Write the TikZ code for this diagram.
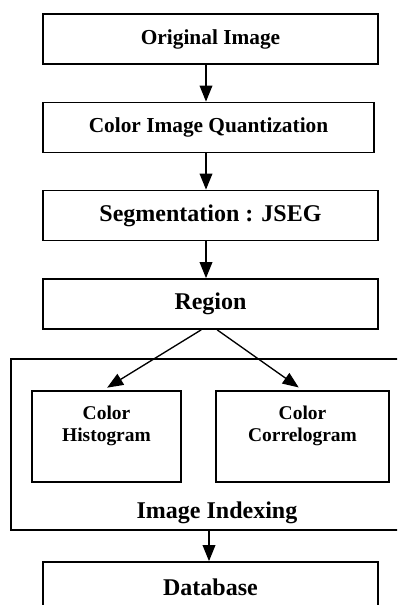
\documentclass[tikz,border=0pt]{standalone}
\usepackage{fontspec}
\setmainfont{Liberation Serif}
\usetikzlibrary{arrows.meta}

\begin{document}
\begin{tikzpicture}[x=0.75pt, y=-0.75pt,
    box/.style={draw, line width=1.3pt, minimum width=251.25pt, minimum height=37.5pt,
        inner sep=0pt, font=\bfseries\fontsize{18}{21}\selectfont},
    smallbox/.style={draw, line width=1.3pt, minimum height=68.25pt, inner sep=0pt},
    smalltext/.style={align=center, inner sep=0pt, anchor=north,
        font=\bfseries\fontsize{14.6}{16.5}\selectfont},
    flow/.style={line width=1pt, -{Triangle[length=12pt, width=9.5pt]}}]
    % picture frame
    \path[use as bounding box, clip] (0, 0) rectangle (397, 605);
    % draw boxes
    \node[box, font=\bfseries\fontsize{16}{19}\selectfont] (orig) at (210.5, 39) {Original Image};
    \node[box, minimum width=248.25pt, font=\bfseries\fontsize{16}{19}\selectfont] (quant) at (208.5, 127.5) {Color Image Quantization};
    \node[box] (seg) at (210.5, 215.5) {Segmentation : JSEG};
    \node[box] (region) at (210.5, 304) {Region};
    % image indexing block
    \node[draw, line width=1.3pt, minimum width=294.75pt, minimum height=128.25pt] (index) at (207.5, 444.5) {};
    \node[font=\bfseries\fontsize{18}{21}\selectfont] (indextext) at (217, 513) {Image Indexing};
    \node[smallbox, minimum width=111.75pt] (hist) at (106.5, 436.5) {};
    \node[smallbox, minimum width=129.75pt] (corr) at (302.5, 436.5) {};
    \node[smalltext] (histtext) at (106.5, 406) {Color\\Histogram};
    \node[smalltext] (corrtext) at (302.5, 406) {Color\\Correlogram};
    \node[box] (db) at (210.5, 587) {Database};
    % draw arrows
    \foreach \a/\b in {orig/quant, quant/seg, seg/region}
        \draw[flow] (\a.south -| 206, 0) -- (\b.north -| 206, 0);
    \draw[flow, shorten >=3.5pt] ([xshift=-7pt]region.south) -- ([xshift=-2.5pt]hist.north);
    \draw[flow, shorten >=3.5pt] ([xshift=5pt]region.south) -- (corr.north);
    \draw[flow] (index.south -| 209, 0) -- (db.north -| 209, 0);
\end{tikzpicture}
\end{document}
